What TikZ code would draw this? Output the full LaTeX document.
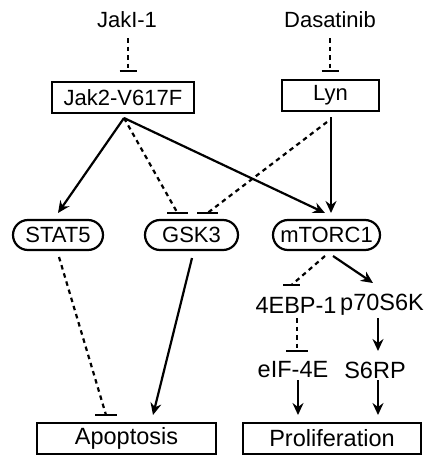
\documentclass[tikz,border=0pt]{standalone}
\usepackage{fontspec}
\setmainfont{Liberation Sans}
\usetikzlibrary{arrows.meta}
\begin{document}
\begin{tikzpicture}[x=1pt,y=-1pt,
  lbl/.style={font=\fontsize{22}{24}\selectfont, inner sep=0pt},
  lbll/.style={font=\fontsize{23.5}{26}\selectfont, inner sep=0pt},
  boxn/.style={draw, line width=2.4pt, minimum height=31pt, inner sep=0pt},
  pill/.style={draw, line width=2.2pt, rounded corners=15pt, minimum height=30pt, inner sep=0pt},
  act/.style={line width=2.2pt, -{Stealth[length=12pt,width=11pt,inset=4pt]}},
  inh/.style={line width=2.2pt, dash pattern=on 4.5pt off 4pt},
  barl/.style={line width=2.2pt}
]
\useasboundingbox (0,0) rectangle (423,455);
% nodes
\node[lbl] (jaki) at (127,20) {JakI-1};
\node[lbl] (dasa) at (330,20) {Dasatinib};
\node[boxn,lbl,minimum width=142pt] (jak2) at (123,97.5) {Jak2-V617F};
\node[boxn,lbl,minimum width=97pt] (lyn) at (330.5,95.5) {Lyn};
\node[pill,lbl,minimum width=90pt] (stat5) at (58,235) {STAT5};
\node[pill,lbl,minimum width=93pt] (gsk3) at (191.5,235) {GSK3};
\node[pill,lbl,minimum width=107pt] (mtorc) at (326.5,235) {mTORC1};
\node[lbll] (ebp) at (296,305) {4EBP-1};
\node[lbll] (p70) at (382,305) {p70S6K};
\node[lbll] (eif) at (293,370) {eIF-4E};
\node[lbll] (s6rp) at (375,370) {S6RP};
\node[boxn,lbll,minimum width=179pt] (apo) at (126.5,438.5) {Apoptosis};
\node[boxn,lbll,minimum width=178pt] (pro) at (332,438.5) {Proliferation};
% connector points
\coordinate (jakio) at (128,38);
\coordinate (jakbar) at (128,71);
\coordinate (dasao) at (330,38);
\coordinate (dasabar) at (330,71);
\coordinate (j2o) at (124,118);
\coordinate (lyno) at (331,117);
\coordinate (lyno2) at (327,122);
\coordinate (stat5in) at (58,213);
\coordinate (gbar1) at (177.5,213);
\coordinate (gbar2) at (207.5,213);
\coordinate (mtin) at (325,213);
\coordinate (mtin2) at (331,213);
\coordinate (stat5o) at (59,257);
\coordinate (apobar) at (106,415);
\coordinate (gsk3o) at (192,258);
\coordinate (apoin) at (153,415);
\coordinate (mto1) at (325,256);
\coordinate (ebpbar) at (291.5,285);
\coordinate (mto2) at (333,256);
\coordinate (p70in) at (373,283);
\coordinate (ebpo) at (297,318);
\coordinate (eifbar) at (297,351);
\coordinate (p70o) at (378,318);
\coordinate (s6in) at (378,351);
\coordinate (eifo) at (298,380);
\coordinate (proin1) at (298,415);
\coordinate (s6o) at (378,380);
\coordinate (proin2) at (378,415);
% inhibitions
\draw[inh] (jakio) -- (jakbar);
\draw[barl] ([xshift=-8.5pt]jakbar) -- ([xshift=8.5pt]jakbar);
\draw[inh] (dasao) -- (dasabar);
\draw[barl] ([xshift=-8.5pt]dasabar) -- ([xshift=8.5pt]dasabar);
\draw[inh] (j2o) -- (gbar1);
\draw[barl] ([xshift=-10.5pt]gbar1) -- ([xshift=10.5pt]gbar1);
\draw[inh] (lyno2) -- (gbar2);
\draw[barl] ([xshift=-10.5pt]gbar2) -- ([xshift=10.5pt]gbar2);
\draw[inh] (stat5o) -- (apobar);
\draw[barl] ([xshift=-11pt]apobar) -- ([xshift=11pt]apobar);
\draw[inh] (mto1) -- (ebpbar);
\draw[barl] ([xshift=-8.5pt]ebpbar) -- ([xshift=8.5pt]ebpbar);
\draw[inh] (ebpo) -- (eifbar);
\draw[barl] ([xshift=-11pt]eifbar) -- ([xshift=11pt]eifbar);
% activations
\draw[act] (j2o) -- (stat5in);
\draw[act] (j2o) -- (mtin);
\draw[act] (lyno) -- (mtin2);
\draw[act] (gsk3o) -- (apoin);
\draw[act] (mto2) -- (p70in);
\draw[act] (p70o) -- (s6in);
\draw[act] (eifo) -- (proin1);
\draw[act] (s6o) -- (proin2);
\end{tikzpicture}
\end{document}
